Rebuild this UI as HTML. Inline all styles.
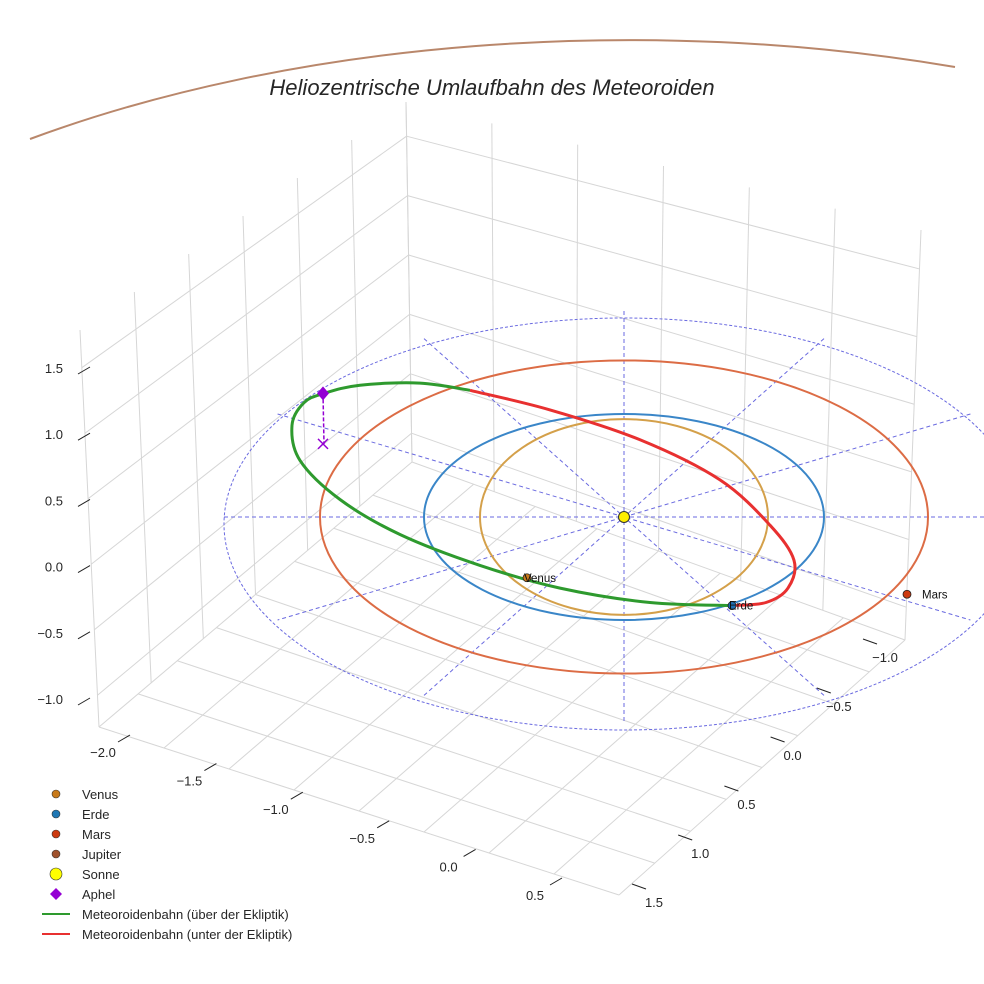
<!DOCTYPE html>
<html><head><meta charset="utf-8">
<style>
html,body{margin:0;padding:0;background:#fff;}
svg{display:block;font-family:"Liberation Sans",sans-serif;}
</style></head>
<body>
<svg id="chart" width="984" height="984" viewBox="0 0 984 984" xmlns="http://www.w3.org/2000/svg">
<rect width="984" height="984" fill="#fff"/>
<g id="box"></g>
<g id="plot"></g>
<text x="492" y="95" text-anchor="middle" font-size="22" font-style="italic" fill="#262626">Heliozentrische Umlaufbahn des Meteoroiden</text>
<g id="legend"></g>
</svg>
<script>
// ---- data (AU) ----
const orbitNames = ["Venus","Erde","Mars"];
const orbitRadii = [0.72, 1.0, 1.52];
const orbitColors = ["#d4a04a","#3a86c8","#dc6c45"];
const planetU = [-0.485, 0.54, 1.415];
const planetV = [0.59, 0.86, 0.75];
const planetColors = ["#c87a1a","#1f6fb4","#cc3a10"];
const greenU = [0.54,0.13,-0.32,-0.72,-1.12,-1.42,-1.62,-1.66,-1.6,-1.5,-1.32,-1.02,-0.77];
const greenV = [0.86,0.83,0.69,0.47,0.17,-0.17,-0.55,-0.89,-1.11,-1.2,-1.28,-1.30,-1.23];
const redU = [-0.77,-0.37,0.08,0.48,0.73,0.85,0.82,0.71,0.54];
const redV = [-1.23,-1.04,-0.75,-0.36,0.08,0.42,0.69,0.83,0.86];
const aphelU = -1.505, aphelV = -1.2, aphelDrop = 0.49;
const zTicks = ["1.5","1.0","0.5","0.0","−0.5","−1.0"];
const xTicks = ["−2.0","−1.5","−1.0","−0.5","0.0","0.5"];
const yTicks = ["1.5","1.0","0.5","0.0","−0.5","−1.0"];
const refRadius = 2.0;

// ---- projection ----
const CX=624, CY=517, SX=200, SY=103;
const px = u => CX + u*SX;
const py = v => CY + v*SY;
const NS="http://www.w3.org/2000/svg";
function mk(parent, tag, attrs){const e=document.createElementNS(NS,tag);for(const k in attrs)e.setAttribute(k,attrs[k]);parent.appendChild(e);return e;}
const box=document.getElementById('box'), plot=document.getElementById('plot'), leg=document.getElementById('legend');

// ---- axes box (decorative grid) ----
const L=[99,727], B=[412,462], R=[905,640], F=[619,895];
const TL=[80,330], TB=[406,102], TR=[921,230];
const lerp=(a,b,t)=>[a[0]+(b[0]-a[0])*t,a[1]+(b[1]-a[1])*t];
function ln(a,b,c,w){const e=mk(box,'line',{x1:a[0],y1:a[1],x2:b[0],y2:b[1],stroke:c||'#d6d6d6','stroke-width':w||1});return e;}
for(let i=0;i<=8;i++){const t=i/8;
  let e=ln(lerp(L,F,t),lerp(B,R,t));  
  e=ln(lerp(L,B,t),lerp(F,R,t));  
}
for(let i=0;i<=6;i++){const t=i/6;
  let e=ln(lerp(TL,TB,t),lerp(L,B,t));  
  e=ln(lerp(TB,TR,t),lerp(B,R,t));  
}
for(let i=0;i<6;i++){const t=(i*66+38)/400;
  let e=ln(lerp(TL,L,t),lerp(TB,B,t));  
  e=ln(lerp(TB,B,t),lerp(TR,R,t));  
}
zTicks.forEach((s,i)=>{const y=368+i*66.2;
  let e=ln([78,y+6],[90,y-1],'#222');  
  const t=mk(box,'text',{x:63,y:y+5,'text-anchor':'end','font-size':13,fill:'#262626'}); t.textContent=s;
   });
xTicks.forEach((s,i)=>{const x=103+i*86.4, y=757+i*28.6;
  let e=ln([x+15,y-15],[x+27,y-22],'#222');  
  const t=mk(box,'text',{x:x,y:y,'text-anchor':'middle','font-size':13,fill:'#262626'}); t.textContent=s;
   });
yTicks.forEach((s,i)=>{const x=654+i*46.2, y=907-i*49;
  let e=ln([x-22,y-23],[x-8,y-18],'#222');  
  const t=mk(box,'text',{x:x,y:y,'text-anchor':'middle','font-size':13,fill:'#262626'}); t.textContent=s;
   });

// ---- jupiter arc (visible part only) ----
let e=mk(plot,'path',{d:'M30,139 A1000,495 0 0 1 955,67',fill:'none',stroke:'#b9876b','stroke-width':2});
 

// ---- reference dashed ring and spokes ----
e=mk(plot,'ellipse',{cx:CX,cy:CY+7,rx:refRadius*SX,ry:refRadius*SY,fill:'none',stroke:'#6a6ae0','stroke-width':1,'stroke-dasharray':'3,2'});
 
for(let k=0;k<6;k++){const a=k*Math.PI/6;
  const dx=Math.cos(a)*refRadius, dy=Math.sin(a)*refRadius;
  e=mk(plot,'line',{x1:px(-dx),y1:py(-dy),x2:px(dx),y2:py(dy),stroke:'#6a6ae0','stroke-width':1,'stroke-dasharray':'4,3'});
   }

// ---- planet orbits ----
orbitRadii.forEach((r,i)=>{
  const o=mk(plot,'ellipse',{cx:CX,cy:CY,rx:r*SX,ry:r*SY*(i===0?1.32:1),fill:'none',stroke:orbitColors[i],'stroke-width':2});
   });

// ---- meteoroid orbit (smoothed) ----
function path(U,V,col,name){
  const P=U.map((u,i)=>[px(u),py(V[i])]);
  let d='M'+P[0][0].toFixed(1)+','+P[0][1].toFixed(1);
  for(let i=0;i<P.length-1;i++){
    const p0=P[Math.max(i-1,0)],p1=P[i],p2=P[i+1],p3=P[Math.min(i+2,P.length-1)];
    const c1=[p1[0]+(p2[0]-p0[0])/6,p1[1]+(p2[1]-p0[1])/6];
    const c2=[p2[0]-(p3[0]-p1[0])/6,p2[1]-(p3[1]-p1[1])/6];
    d+=`C${c1[0].toFixed(1)},${c1[1].toFixed(1)} ${c2[0].toFixed(1)},${c2[1].toFixed(1)} ${p2[0].toFixed(1)},${p2[1].toFixed(1)}`;
  }
  const p=mk(plot,'path',{d:d,fill:'none',stroke:col,'stroke-width':3,'stroke-linejoin':'round'});
   }
path(greenU,greenV,'#2e9a2e','meteoroid-orbit-above');
path(redU,redV,'#e83030','meteoroid-orbit-below');

// ---- aphel ----
const ax=px(aphelU), ay=py(aphelV);
e=mk(plot,'line',{x1:ax,y1:ay,x2:ax+1,y2:ay+aphelDrop*SY,stroke:'#9400d3','stroke-width':1.5,'stroke-dasharray':'4,2'});
 
e=mk(plot,'path',{d:`M${ax-5},${ay+aphelDrop*SY-5}l10,10M${ax+5},${ay+aphelDrop*SY-5}l-10,10`,stroke:'#9400d3','stroke-width':1.5});
 
e=mk(plot,'path',{d:`M${ax},${ay-7}l6,7l-6,7l-6,-7z`,fill:'#9400d3'});
 

// ---- sun & planets ----
e=mk(plot,'circle',{cx:CX,cy:CY,r:5.5,fill:'#ffee00',stroke:'#333','stroke-width':1});
 
orbitNames.forEach((n,i)=>{
  const c=mk(plot,'circle',{cx:px(planetU[i]),cy:py(planetV[i]),r:4,fill:planetColors[i],stroke:'#222','stroke-width':0.8});
   
  const t=mk(plot,'text',{x:px(planetU[i])+(i===2?15:-3),y:py(planetV[i])+4,'font-size':11.5,fill:'#111'}); t.textContent=n;
   });

// ---- legend ----
const legLabels=["Venus","Erde","Mars","Jupiter","Sonne","Aphel","Meteoroidenbahn (über der Ekliptik)","Meteoroidenbahn (unter der Ekliptik)"];
const legColors=["#c87a1a","#1f77b4","#cc3a10","#a0522d","#ffff00","#9400d3","#2e9a2e","#e83030"];
legLabels.forEach((s,i)=>{const y=794+i*20;
  let m;
  if(i<5) m=mk(leg,'circle',{cx:56,cy:y,r:i===4?6:4,fill:legColors[i],stroke:'#333','stroke-width':0.6});
  else if(i===5) m=mk(leg,'path',{d:`M56,${y-6}l6,6l-6,6l-6,-6z`,fill:legColors[i]});
  else m=mk(leg,'line',{x1:42,y1:y,x2:70,y2:y,stroke:legColors[i],'stroke-width':2});
   
  const t=mk(leg,'text',{x:82,y:y+5,'font-size':13,fill:'#262626'}); t.textContent=s;
   });
</script>
</body></html>
